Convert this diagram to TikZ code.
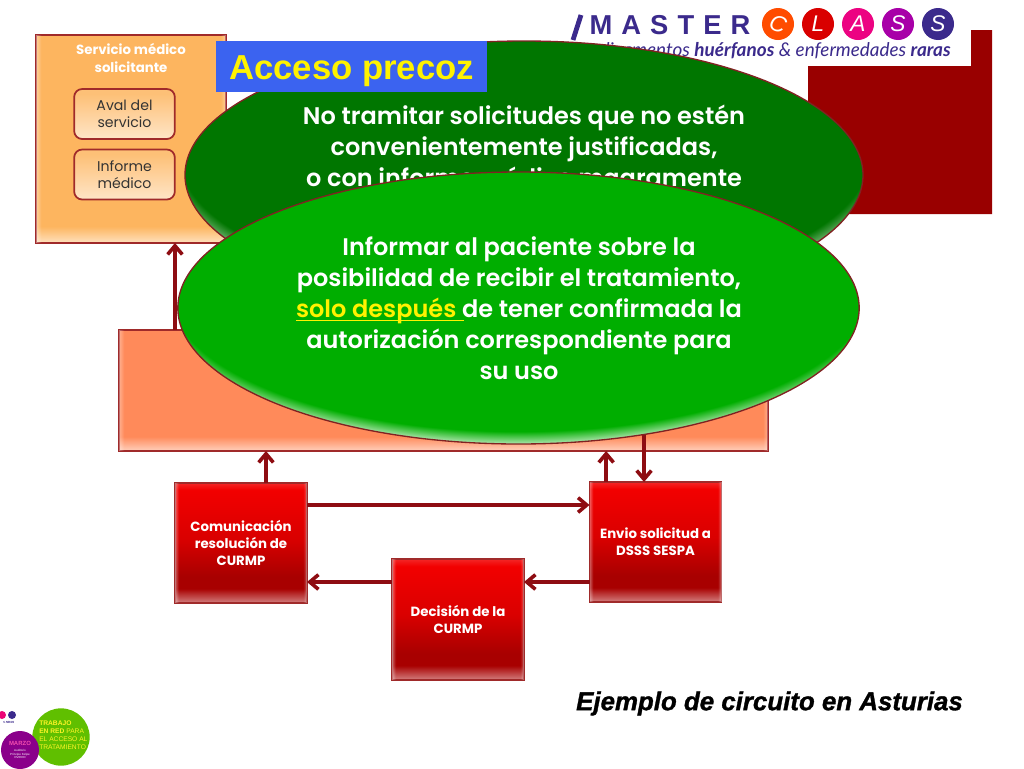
\documentclass[tikz,border=0pt]{standalone}
\usepackage{fontspec}
\setmainfont{Poppins}
\newfontfamily\armFont{Liberation Sans}
\newfontfamily\heavyFont[BoldItalicFeatures={FakeBold=1.2}]{Liberation Sans}
\newfontfamily\ovalFont{Poppins SemiBold}
\newfontfamily\logoFont{Lato}
\usetikzlibrary{arrows.meta,shapes.geometric,fadings}

\definecolor{borderRed}{HTML}{A02A2A}
\definecolor{arrowRed}{HTML}{8E0D12}
\definecolor{blockRed}{HTML}{990000}
\definecolor{logoBlue}{HTML}{3B2A8C}
\definecolor{servOrange}{HTML}{FDB55F}
\definecolor{salmonFill}{HTML}{FF8A5A}
\definecolor{darkLeaf}{HTML}{007600}
\definecolor{brightLeaf}{HTML}{00AE00}
\definecolor{topRed}{HTML}{F20000}
\definecolor{lowRed}{HTML}{A80000}
\definecolor{tagBlue}{HTML}{3B63F0}

\pgfdeclareverticalshading{redFade}{100bp}{color(0bp)=(white); color(25bp)=(lowRed!50!white); color(31bp)=(lowRed); color(36bp)=(lowRed); color(52bp)=(topRed!90!black); color(72bp)=(topRed); color(75bp)=(topRed!85!white); color(100bp)=(topRed)}
\pgfdeclareverticalshading{servFade}{100bp}{color(0bp)=(white); color(25bp)=(servOrange!40!white); color(29bp)=(servOrange); color(100bp)=(servOrange)}
\pgfdeclareverticalshading{salmonFade}{100bp}{color(0bp)=(white); color(25bp)=(salmonFill!40!white); color(31bp)=(salmonFill); color(100bp)=(salmonFill)}
\pgfdeclareverticalshading{paleFade}{100bp}{color(0bp)=(white); color(25bp)=(servOrange!35!white); color(70bp)=(servOrange!85!white); color(100bp)=(servOrange!85!white)}
\pgfdeclareradialshading{darkOval}{\pgfpoint{0bp}{7bp}}{color(0bp)=(darkLeaf); color(25.4bp)=(darkLeaf); color(28.8bp)=(white); color(50bp)=(white)}
\pgfdeclareradialshading{brightOval}{\pgfpoint{0bp}{6bp}}{color(0bp)=(brightLeaf); color(25.6bp)=(brightLeaf); color(28.6bp)=(white); color(50bp)=(white)}
\pgfdeclarehorizontalshading{sideGlowShade}{100bp}{color(0bp)=(transparent!60); color(25bp)=(transparent!60); color(26.5bp)=(transparent!100); color(73.5bp)=(transparent!100); color(75bp)=(transparent!60); color(100bp)=(transparent!60)}
\pgfdeclarefading{sideGlow}{\pgfuseshading{sideGlowShade}}
\pgfdeclarehorizontalshading{thinGlowShade}{100bp}{color(0bp)=(transparent!60); color(25bp)=(transparent!60); color(25.5bp)=(transparent!100); color(74.5bp)=(transparent!100); color(75bp)=(transparent!60); color(100bp)=(transparent!60)}
\pgfdeclarefading{thinGlow}{\pgfuseshading{thinGlowShade}}

\begin{document}
\begin{tikzpicture}[x=.75pt,y=-.75pt,
        flowArrow/.style = {draw=arrowRed,line width=2.7pt,-{Straight Barb[length=6.5pt,width=11pt]}},
        plainBox/.style = {shape=rectangle,draw=borderRed,line width=1pt,inner sep=0pt,outer sep=0pt,align=center},
        redNode/.style = {plainBox,shading=redFade,postaction={fill=white,path fading=sideGlow,fit fading=true},minimum width=99pt,minimum height=90pt,text=white,font=\bfseries\fontsize{10}{13}\selectfont},
        paleNode/.style = {plainBox,line width=1.3pt,rounded corners=6pt,shading=paleFade,minimum width=75.5pt,minimum height=37.5pt,text=black!80,font=\fontsize{10.6}{13}\selectfont},
        ovalNode/.style = {shape=ellipse,draw=borderRed!80!black,line width=1pt,inner sep=0pt,outer sep=0pt},
        ovalText/.style = {text=white,align=center,inner sep=0pt,font=\ovalFont\fontsize{18}{23.2}\selectfont},
        logoDisc/.style = {shape=circle,minimum size=24pt,inner sep=0pt,text=white,font=\armFont\itshape\fontsize{17}{17}\selectfont}
        ]
        \useasboundingbox (0,0) rectangle (1024,768);
        \fill[white] (0,0) rectangle (1024,768);

        % red block and logo
        \fill[blockRed] (808,66) -- (971,66) -- (971,30) -- (992,30) -- (992,214) -- (808,214) -- cycle;
        \draw[logoBlue,line width=3.6pt] (573,40) -- (581,15);
        \node[text=logoBlue,font=\armFont\bfseries\fontsize{20.5}{21}\selectfont] (masterText) at (670,25) {M\,\,A\,\,S\,\,T\,\,E\,\,R};
        \node[logoDisc,fill=orange!60!red] (discC) at (778,24) {\rotatebox{-20}{C}};
        \node[logoDisc,fill=red!85!black] (discL) at (818,24) {L};
        \node[logoDisc,fill=magenta!90!red] (discA) at (858,24) {A};
        \node[logoDisc,fill=violet!45!magenta!85!black] (discS) at (898,24) {S};
        \node[logoDisc,fill=logoBlue] (discEnd) at (938,24) {S};
        \node[anchor=east,inner sep=0pt,text=logoBlue,font=\logoFont\itshape\fontsize{14.2}{15}\selectfont] (logoText) at (951,51) {medicamentos {\bfseries huérfanos} \& enfermedades {\bfseries raras}};

        % boxes
        \node[plainBox,shading=servFade,postaction={fill=white,path fading=sideGlow,fit fading=true},minimum width=142.5pt,minimum height=156pt] (servicio) at (131,139) {};
        \node[text=white,align=center,inner sep=0pt,font=\bfseries\fontsize{10}{13}\selectfont] (servicioText) at (131,58) {Servicio médico\\solicitante};
        \node[paleNode] (aval) at (124.5,114) {Aval del\\servicio};
        \node[paleNode] (informe) at (124.5,174.5) {Informe\\médico};
        \node[plainBox,shading=salmonFade,postaction={fill=white,path fading=thinGlow,fit fading=true},minimum width=486.75pt,minimum height=90.75pt] (junta) at (443.5,390.5) {};
        \node[redNode] (comunica) at (241,543) {Comunicación\\resolución de\\CURMP};
        \node[redNode] (envio) at (655.5,542) {Envio solicitud a\\DSSS SESPA};
        \node[redNode,minimum height=90.75pt] (decision) at (458,619.5) {Decisión de la\\CURMP};

        % connectors
        \draw[flowArrow] ([xshift=-201.4pt]junta.north) -- ([xshift=-201.4pt]junta.north |- servicio.south);
        \draw[flowArrow] ([xshift=18.75pt]comunica.north) -- ([xshift=18.75pt]comunica.north |- junta.south);
        \draw[flowArrow] ([xshift=-37pt]envio.north) -- ([xshift=-37pt]envio.north |- junta.south);
        \draw[flowArrow] ([xshift=-8.6pt]envio.north |- junta.center) -- ([xshift=-8.6pt]envio.north);
        \draw[flowArrow] (comunica.east |- 0,505) -- (envio.west |- 0,505);
        \draw[flowArrow] (envio.west |- 0,582) -- (decision.east |- 0,582);
        \draw[flowArrow] (decision.west |- 0,582) -- (comunica.east |- 0,582);

        % ovals
        \node[ovalNode,shading=darkOval,minimum width=508.5pt,minimum height=201pt] (avisoOval) at (524,175) {};
        \node[ovalText] (avisoText) at (524,149) {No tramitar solicitudes que no estén\\convenientemente justificadas,\\o con informe médico magramente};
        \node[fill=tagBlue,minimum width=203.25pt,minimum height=38.25pt,inner sep=0pt,text=yellow,text height=20pt,text depth=0pt,font=\armFont\bfseries\fontsize{26}{26}\selectfont] (acceso) at (351.5,66.5) {Acceso precoz};
        \node[ovalNode,shading=brightOval,minimum width=511pt,minimum height=204pt] (informarOval) at (518.5,308) {};
        \node[ovalText] (informarText) at (519,308) {Informar al paciente sobre la\\posibilidad de recibir el tratamiento,\\{\color{yellow}\rlap{\rule[-3pt]{126pt}{.9pt}}solo después\ }de tener confirmada la\\autorización correspondiente para\\su uso};

        \node[inner sep=0pt,font=\heavyFont\bfseries\itshape\fontsize{19.4}{20}\selectfont] (ejemplo) at (769.5,703.5) {Ejemplo de circuito en Asturias};

        % small logo, bottom left
        \fill[magenta!80!red] (2,715) circle (4);
        \fill[logoBlue] (12,715) circle (4);
        \node[anchor=west,inner sep=0pt,text=logoBlue,font=\logoFont\bfseries\itshape\fontsize{3}{3}\selectfont] (smallRaras) at (3,722) {s raras};
        \node[shape=circle,fill=green!50!yellow!75!black,minimum size=43pt,inner sep=0pt] (redDisc) at (61,737) {};
        \node[anchor=west,inner sep=0pt,align=left,text=yellow!85!white,font=\armFont\fontsize{5}{6}\selectfont] (redText) at (39,735) {\textbf{TRABAJO}\\\textbf{EN RED} PARA\\EL ACCESO AL\\TRATAMIENTO};
        \node[shape=circle,fill=violet!45!magenta!70!black,minimum size=28.5pt,inner sep=0pt,align=center,text=white,font=\armFont\fontsize{2.2}{2.6}\selectfont] (marzoDisc) at (20,750) {\textcolor{magenta!70!white}{\fontsize{4.5}{5}\selectfont\bfseries MARZO}\\[2pt]Auditorio\\Príncipe Felipe\\OVIEDO};
    \end{tikzpicture}
\end{document}
